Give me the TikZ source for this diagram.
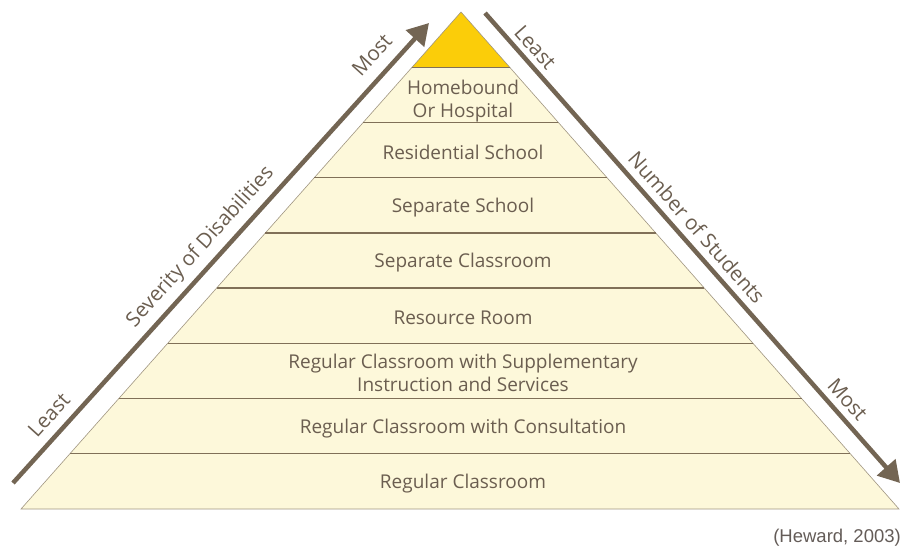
\documentclass[tikz,border=0pt]{standalone}
\usepackage{fontspec}
\setmainfont{Open Sans}
\newfontfamily\citefont{Liberation Sans}
\usetikzlibrary{arrows.meta, calc}
\definecolor{pyrbrown}{RGB}{115,101,83}
\definecolor{txtbrown}{RGB}{107,94,80}
\definecolor{linebrown}{RGB}{128,112,88}
\definecolor{edgegray}{RGB}{160,150,130}
\definecolor{cream}{RGB}{253,248,218}
\definecolor{gold}{RGB}{251,205,9}
\definecolor{citegray}{RGB}{100,92,88}

\begin{document}
\begin{tikzpicture}[
    x=1pt, y=1pt,
    level/.style={font=\fontsize{19}{23}\selectfont, text=txtbrown, align=center, yshift=-2pt},
    side/.style={font=\fontsize{20.5}{24}\selectfont, text=txtbrown, sloped},
    divider/.style={draw=linebrown, line width=1.3pt},
    edge/.style={draw=edgegray, line width=0.6pt},
    bigarrow/.style={draw=pyrbrown, line width=4.5pt, -{Triangle[length=21pt, width=24pt]}}
]
    \useasboundingbox (0,0) rectangle (902,550);

    % Pyramid
    \coordinate (apex) at (461,538);
    \coordinate (lb) at (21,41);
    \coordinate (rb) at (899,41);
    \coordinate (top) at (463,538);
    \coordinate (bm) at (463,41);

    \fill[cream] (apex) -- (lb) -- (rb) -- cycle;
    \fill[gold] (apex) -- ($(apex)!1/9!(lb)$) -- ($(apex)!1/9!(rb)$) -- cycle;
    \draw[edge] (apex) -- (lb) -- (rb) -- cycle;
    \foreach \k in {1,...,8}
        \draw[divider] ($(apex)!\k/9!(lb)$) -- ($(apex)!\k/9!(rb)$);

    % Levels
    \node[level, yshift=-4pt] (hospital) at ($(top)!1.5/9!(bm)$) {Homebound\\Or Hospital};
    \node[level] (residential) at ($(top)!2.5/9!(bm)$) {Residential School};
    \node[level] (sepschool) at ($(top)!3.5/9!(bm)$) {Separate School};
    \node[level] (sepclass) at ($(top)!4.5/9!(bm)$) {Separate Classroom};
    \node[level] (resource) at ($(top)!5.5/9!(bm)$) {Resource Room};
    \node[level] (supplementary) at ($(top)!6.5/9!(bm)$) {Regular Classroom with Supplementary\\Instruction and Services};
    \node[level] (consultation) at ($(top)!7.5/9!(bm)$) {Regular Classroom with Consultation};
    \node[level] (regular) at ($(top)!8.5/9!(bm)$) {Regular Classroom};

    % Side arrows
    \coordinate (sevtail) at (13,67);
    \coordinate (sevtip) at (429,527);
    \coordinate (numtail) at (485,537);
    \coordinate (numtip) at (900,67);

    \draw[bigarrow] (sevtail) -- (sevtip)
        node[side, pos=0.12, yshift=19pt] (sevleast) {Least}
        node[side, pos=0.485, yshift=19pt] (sevlabel) {Severity of Disabilities}
        node[side, pos=0.9, yshift=21pt] (sevmost) {Most};
    \draw[bigarrow] (numtail) -- (numtip)
        node[side, pos=0.094, yshift=15pt] (numleast) {Least}
        node[side, pos=0.48, yshift=17pt] (numlabel) {Number of Students}
        node[side, pos=0.845, yshift=16pt] (nummost) {Most};

    % Source
    \node[anchor=east, inner sep=0pt, font=\citefont\fontsize{18.5}{20}\selectfont, text=citegray] (source) at (901,12) {(Heward, 2003)};
\end{tikzpicture}
\end{document}
